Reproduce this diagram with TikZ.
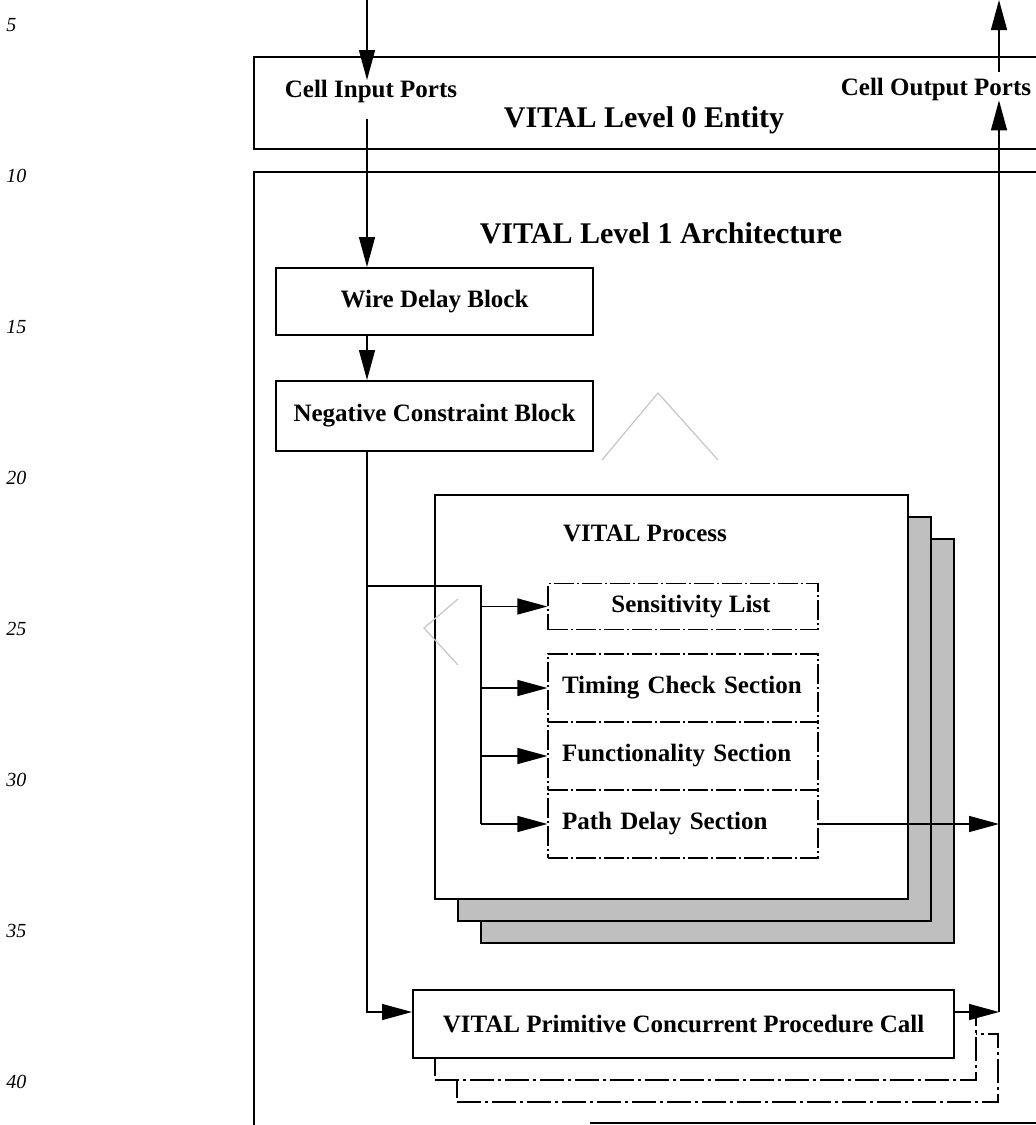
\documentclass[tikz,border=0pt]{standalone}
\usepackage{fontspec}
\setmainfont{Liberation Serif}
\usetikzlibrary{arrows.meta, calc}

\begin{document}
\begin{tikzpicture}[x=0.5pt, y=-0.5pt,
    blockbox/.style={draw, line width=1pt, fill=white, inner sep=0pt, font=\fontsize{12.5}{14}\selectfont\bfseries},
    partbox/.style={draw, line width=0.6pt, dash pattern=on 10pt off 1.5pt on 1pt off 1.5pt, inner sep=0pt, minimum width=135pt, font=\fontsize{12.5}{14}\selectfont\bfseries},
    sectbox/.style={partbox, text width=121pt, inner xsep=7pt, align=left, minimum height=34pt},
    sheet/.style={draw, line width=1pt, fill=black!25, inner sep=0pt, minimum width=236.5pt, minimum height=202pt},
    primbox/.style={draw, line width=1pt, fill=white, inner sep=0pt, minimum width=270.5pt, minimum height=34pt},
    primshadow/.style={primbox, line width=0.8pt, dash pattern=on 12pt off 2pt on 1.5pt off 2pt},
    link/.style={line width=0.7pt},
    arr/.style={line width=0.7pt, -{Triangle[length=15pt, width=8pt]}},
    lbl/.style={font=\fontsize{12.5}{14}\selectfont\bfseries, inner sep=0pt},
    title/.style={font=\fontsize{15}{18}\selectfont\bfseries, inner sep=0pt},
    lineno/.style={font=\fontsize{10}{12}\selectfont\itshape, anchor=west, inner sep=0pt},
    ghost/.style={gray!45, line width=0.6pt}]

    % Page size
    \useasboundingbox (0,0) rectangle (1036,1125);
    \clip (0,0) rectangle (1036,1125);

    % Line numbers in the margin
    \foreach \n [count=\i from 0] in {5,10,15,20,25,30,35,40}
        \node[lineno] (ln\n) at (6, 25+151*\i) {\n};

    % Ends of the port lines
    \coordinate (inTop) at (367,0);
    \coordinate (outTop) at (999,0);
    \coordinate (branch) at (481,586);

    % Draw the entity box and the architecture frame
    \node[draw, line width=1pt, inner sep=0pt, minimum width=395.5pt, minimum height=46pt] (entity) at (649.5,103) {};
    \draw[line width=1pt] (1045,172) -| (254,1130);
    \draw[line width=1pt] (590,1123) -- (1045,1123);

    \node[lbl, text depth=10.5pt, anchor=north] (inLbl) at (371,80) {Cell Input Ports};
    \node[lbl, inner ysep=2.5pt, text depth=0pt, anchor=base] (outLbl) at (936,95) {Cell Output Ports};
    \node[title] (entityTitle) at (644,120) {VITAL Level 0 Entity};
    \node[title] (archTitle) at (661,233) {VITAL Level 1 Architecture};

    % Blocks on the input side
    \node[blockbox, minimum width=158.5pt, minimum height=33.5pt] (wire) at (434.5,301.5) {Wire Delay Block};
    \node[blockbox, minimum width=158.5pt, minimum height=35pt] (ncb) at (434.5,416) {Negative Constraint Block};

    % Stack of process sheets
    \foreach \k in {2,1}
        \node[sheet] (proc\k) at (671.5+23*\k, 697+22*\k) {};
    \node[sheet, fill=white] (proc) at (671.5,697) {};
    \node[lbl] (procTitle) at (645,533) {VITAL Process};

    \node[partbox, minimum height=23pt] (sens) at (683,606.5) {\hspace*{8pt}Sensitivity List};
    \node[sectbox] (timing) at (683,688) {Timing Check Section};
    \node[sectbox] (func) at (683,756) {Functionality Section};
    \node[sectbox] (path) at (683,824) {Path Delay Section};

    % Stack of procedure calls
    \foreach \k in {2,1}
        \node[primshadow] (prim\k) at (683.5+22*\k, 1024+22*\k) {};
    \node[primbox, font=\fontsize{12.5}{14}\selectfont\bfseries] (prim) at (683.5,1024) {VITAL Primitive Concurrent Procedure Call};

    % Faint marks
    \draw[ghost] (602,460) -- (658,393) -- (718,460);
    \draw[ghost] (458,599) -- (424,628) -- (458,665);

    % Input path
    \draw[arr] (inTop) -- (inTop |- inLbl.north);
    \draw[arr] (inTop |- inLbl.south) -- (inTop |- wire.north);
    \draw[arr] (inTop |- wire.south) -- (inTop |- ncb.north);
    \draw[arr] (inTop |- ncb.south) |- ([yshift=6pt]prim.west);

    % Fan out into the process
    \draw[link] (inTop |- branch) -- (branch) -- (branch |- path.west);
    \foreach \part in {sens, timing, func, path}
        \draw[arr] (branch |- \part.west) -- (\part.west);

    % Output path
    \draw[arr] (path.east) -- (path.east -| outTop);
    \draw[arr] ([yshift=6pt]prim.east) -- ([yshift=6pt]prim.east -| outTop);
    \draw[arr] ([yshift=6pt]prim.east -| outTop) -- (outTop |- outLbl.south);
    \draw[arr] (outTop |- outLbl.north) -- (outTop);

\end{tikzpicture}
\end{document}
